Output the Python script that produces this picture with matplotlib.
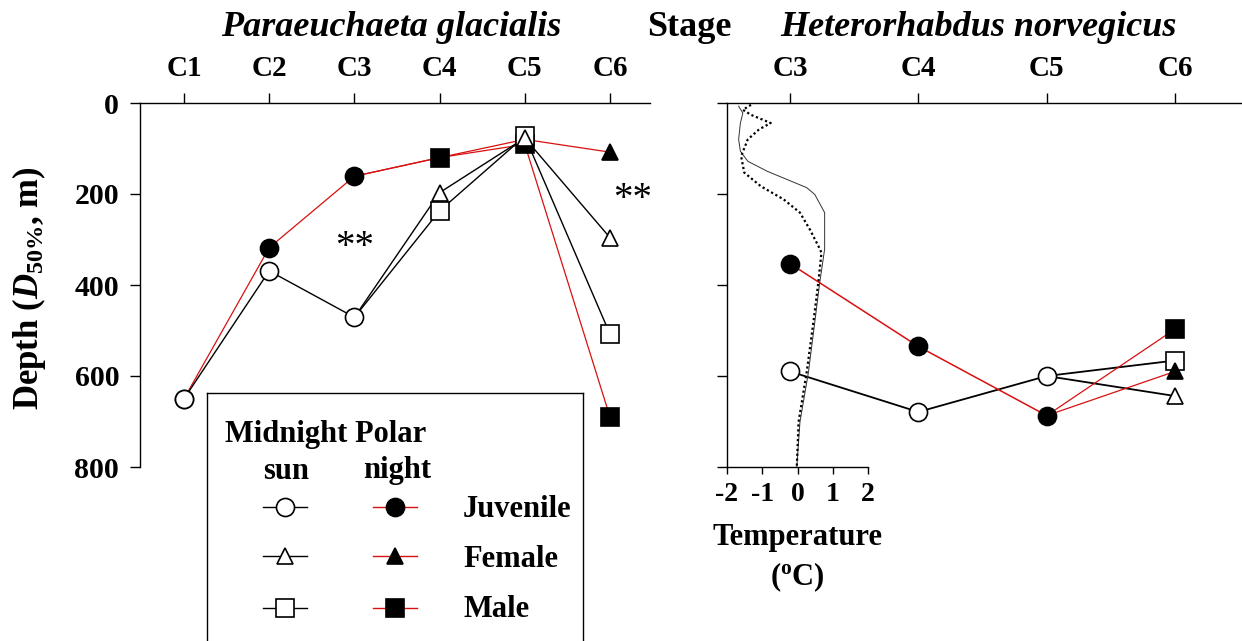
import matplotlib
matplotlib.use('Agg')
import matplotlib.pyplot as plt

plt.rcParams['font.family'] = ['Liberation Serif', 'DejaVu Serif']
plt.rcParams['font.weight'] = 'bold'
plt.rcParams['axes.unicode_minus'] = False
plt.rcParams['mathtext.fontset'] = 'custom'
plt.rcParams['mathtext.rm'] = 'Liberation Serif:bold'
plt.rcParams['mathtext.it'] = 'Liberation Serif:italic:bold'
plt.rcParams['mathtext.bf'] = 'Liberation Serif:bold'

# ---------------- data ----------------
# Paraeuchaeta glacialis (stages C1..C6 -> 1..6)
pg_stage_labels = ['C1', 'C2', 'C3', 'C4', 'C5', 'C6']
pg_juv_stages = [1, 2, 3]
pg_adult_stages = [4, 5, 6]
pg_sun_juv = [650, 369, 471]
pg_night_juv = [650, 318, 161]
pg_sun_female = [197, 77, 296]
pg_sun_male = [237, 73, 508]
pg_night_female = [120, 80, 108]
pg_night_male = [120, 91, 690]

# Heterorhabdus norvegicus (stages C3..C6 -> 3..6)
hn_stage_labels = ['C3', 'C4', 'C5', 'C6']
hn_juv_stages = [3, 4, 5]
hn_adult_stages = [6]
hn_sun_juv = [590, 679, 600]
hn_night_juv = [353, 535, 687]
hn_sun_female = [644]
hn_sun_male = [566]
hn_night_female = [590]
hn_night_male = [497]

# Temperature profiles (deg C vs depth m)
temp_a_t = [-1.67, -1.55, -1.62, -1.67, -1.62, -1.41, -0.86, -0.30, 0.26, 0.49, 0.77, 0.77, 0.63, 0.49, 0.31, 0.07, -0.02]
temp_a_d = [7, 22, 44, 80, 106, 128, 150, 168, 186, 201, 241, 321, 395, 482, 592, 701, 800]
temp_b_t = [-1.32, -1.55, -1.32, -0.76, -1.09, -1.41, -1.60, -1.51, -1.04, -0.39, 0.07, 0.35, 0.59, 0.68, 0.59, 0.45, 0.26, 0.03, -0.02]
temp_b_d = [4, 15, 26, 44, 58, 80, 117, 153, 183, 212, 241, 278, 314, 329, 395, 482, 592, 701, 800]

depth_ticks = [0, 200, 400, 600, 800]
temp_ticks = [-2, -1, 0, 1, 2]

RED = '#d81010'
W, H = 1242, 641

fig = plt.figure(figsize=(W / 100, H / 100), dpi=100)


def px_axes(x0, x1, ytop, ybot):
    return fig.add_axes([x0 / W, 1 - ybot / H, (x1 - x0) / W, (ybot - ytop) / H])


ax1 = px_axes(140, 650, 103, 467)
ax2 = px_axes(727, 1241, 103, 467)

MS = {'o': 13, '^': 12, 's': 13}


def series(ax, xs, ys, marker, filled, lc, lw, zl, zm, origin=None):
    lx = list(xs)
    ly = list(ys)
    if origin is not None:
        lx = [origin[0]] + lx
        ly = [origin[1]] + ly
    ax.plot(lx, ly, color=lc, lw=lw, zorder=zl, solid_joinstyle='miter')
    ax.plot(xs, ys, ls='none', marker=marker, ms=MS[marker],
            mfc='black' if filled else 'white', mec='black', mew=1.2, zorder=zm)


# ----- left panel -----
lwb, lwr = 1.0, 0.9
series(ax1, pg_juv_stages, pg_night_juv, 'o', True, RED, lwr, 2, 3)
series(ax1, pg_adult_stages, pg_night_female, '^', True, RED, lwr, 2, 3,
       origin=(pg_juv_stages[-1], pg_night_juv[-1]))
series(ax1, pg_adult_stages, pg_night_male, 's', True, RED, lwr, 2, 3.1,
       origin=(pg_juv_stages[-1], pg_night_juv[-1]))
series(ax1, pg_juv_stages, pg_sun_juv, 'o', False, 'black', lwb, 4, 5)
series(ax1, pg_adult_stages, pg_sun_male, 's', False, 'black', lwb, 4, 5)
series(ax1, pg_adult_stages, pg_sun_female, '^', False, 'black', lwb, 4, 5.1,
       origin=(pg_juv_stages[-1], pg_sun_juv[-1]))
ax1.plot([pg_juv_stages[-1], pg_adult_stages[0]], [pg_sun_juv[-1], pg_sun_male[0]],
         color='black', lw=lwb, zorder=4)

ax1.set_xlim(1 - 44 / 85.2, 6 + 40 / 85.2)
ax1.set_ylim(800, 0)
ax1.set_xticks(range(1, 7))
ax1.set_xticklabels(pg_stage_labels)
ax1.set_yticks(depth_ticks)
ax1.set_yticklabels([str(v) for v in depth_ticks])
ax1.text(3, 318, '**', ha='center', va='center', fontsize=28, fontweight='normal')
ax1.text(6.26, 212, '**', ha='center', va='center', fontsize=28, fontweight='normal')

# ----- right panel -----
lwb2, lwr2 = 1.3, 1.1
series(ax2, hn_juv_stages, hn_sun_juv, 'o', False, 'black', lwb2, 3, 4)
series(ax2, hn_adult_stages, hn_sun_male, 's', False, 'black', lwb2, 3, 4,
       origin=(hn_juv_stages[-1], hn_sun_juv[-1]))
series(ax2, hn_adult_stages, hn_sun_female, '^', False, 'black', lwb2, 3, 4,
       origin=(hn_juv_stages[-1], hn_sun_juv[-1]))
series(ax2, hn_juv_stages, hn_night_juv, 'o', True, RED, lwr2, 3.5, 5)
series(ax2, hn_adult_stages, hn_night_male, 's', True, RED, lwr, 3.5, 5,
       origin=(hn_juv_stages[-1], hn_night_juv[-1]))
series(ax2, hn_adult_stages, hn_night_female, '^', True, RED, lwr, 3.5, 5,
       origin=(hn_juv_stages[-1], hn_night_juv[-1]))

ax2.set_xlim(3 - 63 / 128.3, 6 + 66 / 128.3)
ax2.set_ylim(800, 0)
ax2.set_xticks(range(3, 7))
ax2.set_xticklabels(hn_stage_labels)
ax2.set_yticks(depth_ticks)
ax2.set_yticklabels([])

# temperature axis (twin sharing the depth scale)
axt = ax2.twiny()
axt.plot(temp_a_t, temp_a_d, color='#333333', lw=0.7, zorder=2)
axt.plot(temp_b_t, temp_b_d, color='black', lw=1.6, ls=(0, (1, 1.2)), zorder=2)
axt.set_xlim(-2, -2 + 514 / 35.25)
axt.xaxis.set_ticks_position('bottom')
axt.set_xticks(temp_ticks)
axt.set_xticklabels([str(v) for v in temp_ticks])
for s in ('top', 'right', 'left'):
    axt.spines[s].set_visible(False)
axt.spines['bottom'].set_bounds(-2, 2)
axt.spines['bottom'].set_linewidth(1.0)
axt.tick_params(axis='x', direction='out', length=5, width=1.0, pad=6, labelsize=20)
for t in axt.get_xticklabels():
    t.set_fontweight('bold')
tr = axt.get_xaxis_transform()
axt.text(0, (467 - 537) / 364, 'Temperature', transform=tr, ha='center', va='center',
         fontsize=22, fontweight='bold')
axt.text(0, (467 - 577) / 364, r'($^{\mathrm{o}}$C)', transform=tr, ha='center', va='center',
         fontsize=22, fontweight='bold')

for ax in (ax1, ax2):
    ax.spines['right'].set_visible(False)
    ax.spines['bottom'].set_visible(False)
    ax.spines['top'].set_linewidth(1.0)
    ax.spines['left'].set_linewidth(1.0)
    ax.xaxis.set_ticks_position('top')
    ax.xaxis.set_label_position('top')
    ax.tick_params(axis='x', direction='out', length=7, width=1.0, pad=8, labelsize=21)
    ax.tick_params(axis='y', direction='out', length=7, width=1.0, pad=8, labelsize=21.5)
    for t in ax.get_xticklabels() + ax.get_yticklabels():
        t.set_fontweight('bold')

# titles
fig.text(391 / W, 1 - 28 / H, 'Paraeuchaeta glacialis', ha='center', va='center',
         fontsize=26, fontweight='bold', fontstyle='italic')
fig.text(689 / W, 1 - 28 / H, 'Stage', ha='center', va='center', fontsize=26, fontweight='bold')
fig.text(978 / W, 1 - 28 / H, 'Heterorhabdus norvegicus', ha='center', va='center',
         fontsize=26, fontweight='bold', fontstyle='italic')
fig.text(29 / W, 1 - 288 / H, r'Depth ($\mathit{D}_{\mathit{50\%}}$, m)', rotation=90,
         ha='center', va='center', fontsize=25, fontweight='bold')

# ----- legend box -----
leg = px_axes(207, 583, 393, 641)
leg.set_zorder(10)
leg.set_facecolor('white')
leg.set_xlim(0, 376)
leg.set_ylim(248, 0)
leg.set_xticks([])
leg.set_yticks([])
leg.spines['bottom'].set_visible(False)
for s in ('top', 'left', 'right'):
    leg.spines[s].set_linewidth(1.0)

leg.text(18, 49, 'Midnight Polar', fontsize=22, fontweight='bold', va='baseline', ha='left')
leg.text(79, 86, 'sun', fontsize=22, fontweight='bold', va='baseline', ha='center')
leg.text(190, 85, 'night', fontsize=22, fontweight='bold', va='baseline', ha='center')
rows = [(114, 'o', 'Juvenile', 124), (163, '^', 'Female', 174), (215, 's', 'Male', 224)]
for yy, mk, lab, yb in rows:
    leg.plot([56, 100], [yy, yy], color='black', lw=1.0)
    leg.plot([78], [yy], marker=mk, ms=MS[mk], mfc='white', mec='black', mew=1.2, ls='none')
    leg.plot([166, 210], [yy, yy], color=RED, lw=1.0)
    leg.plot([188], [yy], marker=mk, ms=MS[mk], mfc='black', mec='black', mew=1.2, ls='none')
    leg.text(256, yb, lab, fontsize=22, fontweight='bold', va='baseline', ha='left')

fig.savefig('out.png', dpi=100, facecolor='white')
